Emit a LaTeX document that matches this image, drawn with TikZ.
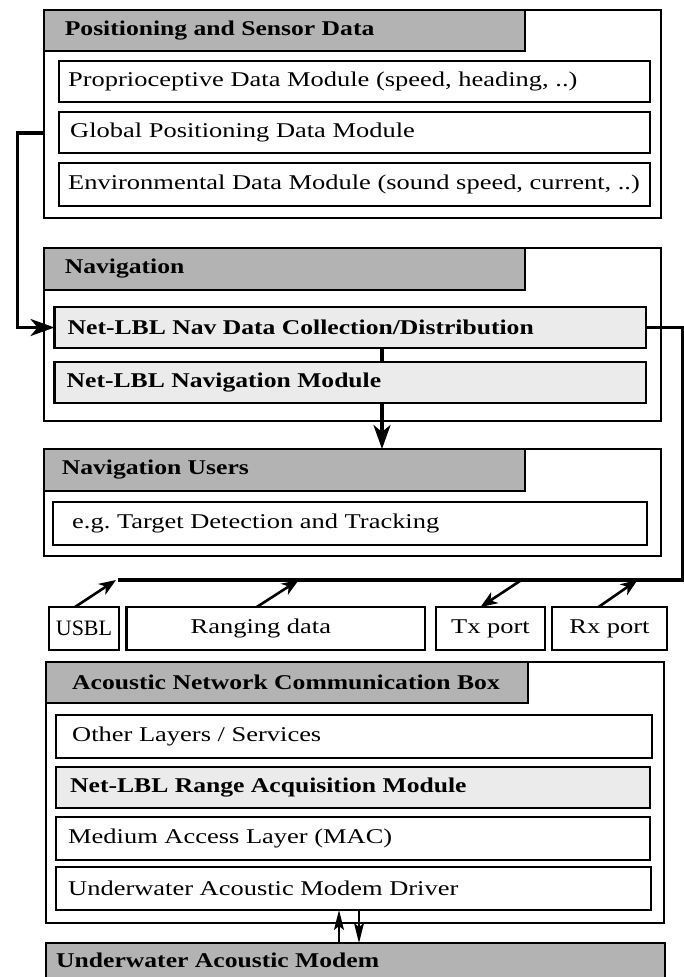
\documentclass[tikz,border=0pt]{standalone}
\usepackage{fontspec}
\setmainfont{Liberation Serif}[UprightFeatures={FakeStretch=1.26}, BoldFeatures={FakeStretch=1.22}]
\newfontfamily\plainserif{Liberation Serif}
\usetikzlibrary{arrows.meta}
\definecolor{hdrgrey}{RGB}{179,179,179}
\definecolor{lightgrey}{RGB}{235,235,235}
\newcommand\mkbox[6]{\node[#6, anchor=north west, minimum width=#4pt-#2pt, minimum height=#5pt-#3pt, inner sep=0pt, outer sep=0pt] (#1) at (#2,#3) {};}
\tikzset{
  outerbox/.style={draw, line width=2pt, fill=white},
  hdrbox/.style={draw, line width=2pt, fill=hdrgrey},
  modbox/.style={draw, line width=2.6pt, fill=white},
  nlbox/.style={draw, line width=2.6pt, fill=lightgrey},
  smallbox/.style={draw, line width=2.2pt, fill=white},
  txt/.style={anchor=west, inner sep=0pt, font=\fontsize{21}{24}\selectfont},
  btxt/.style={anchor=west, inner sep=0pt, font=\fontsize{21}{24}\selectfont\bfseries},
  conn/.style={line width=3.2pt},
  bigtip/.style={-{Stealth[length=24pt,width=17pt,inset=7pt]}},
  smallarr/.style={line width=2.6pt},
  smalltip/.style={-{Stealth[length=17pt,width=13pt,inset=5pt]}},
  smalltipr/.style={{Stealth[length=17pt,width=13pt,inset=5pt]}-},
  modtip/.style={-{Stealth[length=20pt,width=10pt,inset=4pt]}},
}
\begin{document}
\begin{tikzpicture}[x=1pt,y=-1pt]
\useasboundingbox[fill=white] (0,0) rectangle (684,977);
% Positioning and Sensor Data
\mkbox{psd}{43.6}{10}{661}{218}{outerbox}
\mkbox{psdh}{43.6}{10}{525}{51}{hdrbox}
\node[btxt] (psdt) at ([xshift=21pt]psdh.west) {Positioning and Sensor Data};
\mkbox{prop}{59}{61}{650}{102}{modbox}
\node[txt] (propt) at ([xshift=9pt]prop.west) {Proprioceptive Data Module (speed, heading, ..)};
\mkbox{gps}{59}{112}{650}{153}{modbox}
\node[txt] (gpst) at ([xshift=11pt]gps.west) {Global Positioning Data Module};
\mkbox{env}{59}{163}{650}{206}{modbox}
\node[txt] (envt) at ([xshift=9pt]env.west) {Environmental Data Module (sound speed, current, ..)};
% Navigation
\mkbox{nav}{43.6}{248}{661}{421}{outerbox}
\mkbox{navh}{43.6}{248}{525}{290}{hdrbox}
\node[btxt] (navt) at ([xshift=21pt]navh.west) {Navigation};
\mkbox{navdc}{54.5}{307}{646}{348}{nlbox}
\node[btxt] (navdct) at ([xshift=13pt]navdc.west) {Net-LBL Nav Data Collection/Distribution};
\mkbox{navmod}{54.5}{362}{646}{403}{nlbox}
\node[btxt] (navmodt) at ([xshift=12pt]navmod.west) {Net-LBL Navigation Module};
% Navigation Users
\mkbox{nu}{43.6}{449}{661}{556}{outerbox}
\mkbox{nuh}{43.6}{449}{525}{491}{hdrbox}
\node[btxt] (nut) at ([xshift=18pt]nuh.west) {Navigation Users};
\mkbox{tdt}{53}{502}{647}{545}{modbox}
\node[txt] (tdtt) at ([xshift=19pt]tdt.west) {e.g.\ Target Detection and Tracking};
% small boxes
\mkbox{usbl}{49}{607}{119}{650}{smallbox}
\node[txt, anchor=center, font=\fontsize{22}{24}\plainserif] (usblt) at (usbl.center) {USBL};
\mkbox{rng}{126.5}{607}{425}{650}{smallbox}
\node[txt] (rngt) at ([xshift=64pt]rng.west) {Ranging data};
\mkbox{tx}{436}{607}{545}{650}{smallbox}
\node[txt, anchor=center] (txt) at (tx.center) {Tx port};
\mkbox{rx}{552}{607}{667}{650}{smallbox}
\node[txt, anchor=center] (rxt) at (rx.center) {Rx port};
% Acoustic Network Communication Box
\mkbox{acb}{46}{662}{664}{923}{outerbox}
\mkbox{acbh}{46}{662}{528}{703}{hdrbox}
\node[btxt] (acbt) at ([xshift=26pt]acbh.west) {Acoustic Network Communication Box};
\mkbox{oth}{56}{715}{652}{758}{modbox}
\node[txt] (otht) at ([xshift=16pt]oth.west) {Other Layers / Services};
\mkbox{rac}{56}{767}{650}{808}{nlbox}
\node[btxt] (ract) at ([xshift=14pt]rac.west) {Net-LBL Range Acquisition Module};
\mkbox{mac}{56}{817}{650}{860}{modbox}
\node[txt] (mact) at ([xshift=12pt]mac.west) {Medium Access Layer (MAC)};
\mkbox{drv}{56}{867}{651}{910}{modbox}
\node[txt] (drvt) at ([xshift=12pt]drv.west) {Underwater Acoustic Modem Driver};
% Modem
\mkbox{modem}{46}{943}{665}{995}{hdrbox}
\node[btxt] (modemt) at (56,960) {Underwater Acoustic Modem};
% coordinates
\coordinate (xcol) at (382,0);
\coordinate (busR) at (683,580);
\coordinate (busL) at (118,580);
\coordinate (xup) at (339,0);
\coordinate (xdn) at (359,0);
% connectors
\draw[conn, bigtip] ([yshift=-19pt]psd.west) -- ++(-26,0) |- (navdc.west);
\draw[conn] (navdc.east) -| (busR) -- (busL);
\draw[conn] (navdc.south -| xcol) -- (navmod.north -| xcol);
\draw[conn, bigtip] (navmod.south -| xcol) -- (nu.north -| xcol);
\draw[smallarr, smalltip] ([xshift=-9pt]usbl.north) -- ++(41,-27);
\draw[smallarr, smalltip] ([xshift=-19pt]rng.north) -- ++(42,-27);
\draw[smallarr, smalltipr] ([xshift=-10pt]tx.north) -- ++(41,-27);
\draw[smallarr, smalltip] ([xshift=-11pt]rx.north) -- ++(39,-27);
\draw[line width=2pt, modtip] (modem.north -| xup) -- (drv.south -| xup);
\draw[line width=2pt, modtip] (drv.south -| xdn) -- (modem.north -| xdn);
\end{tikzpicture}
\end{document}
